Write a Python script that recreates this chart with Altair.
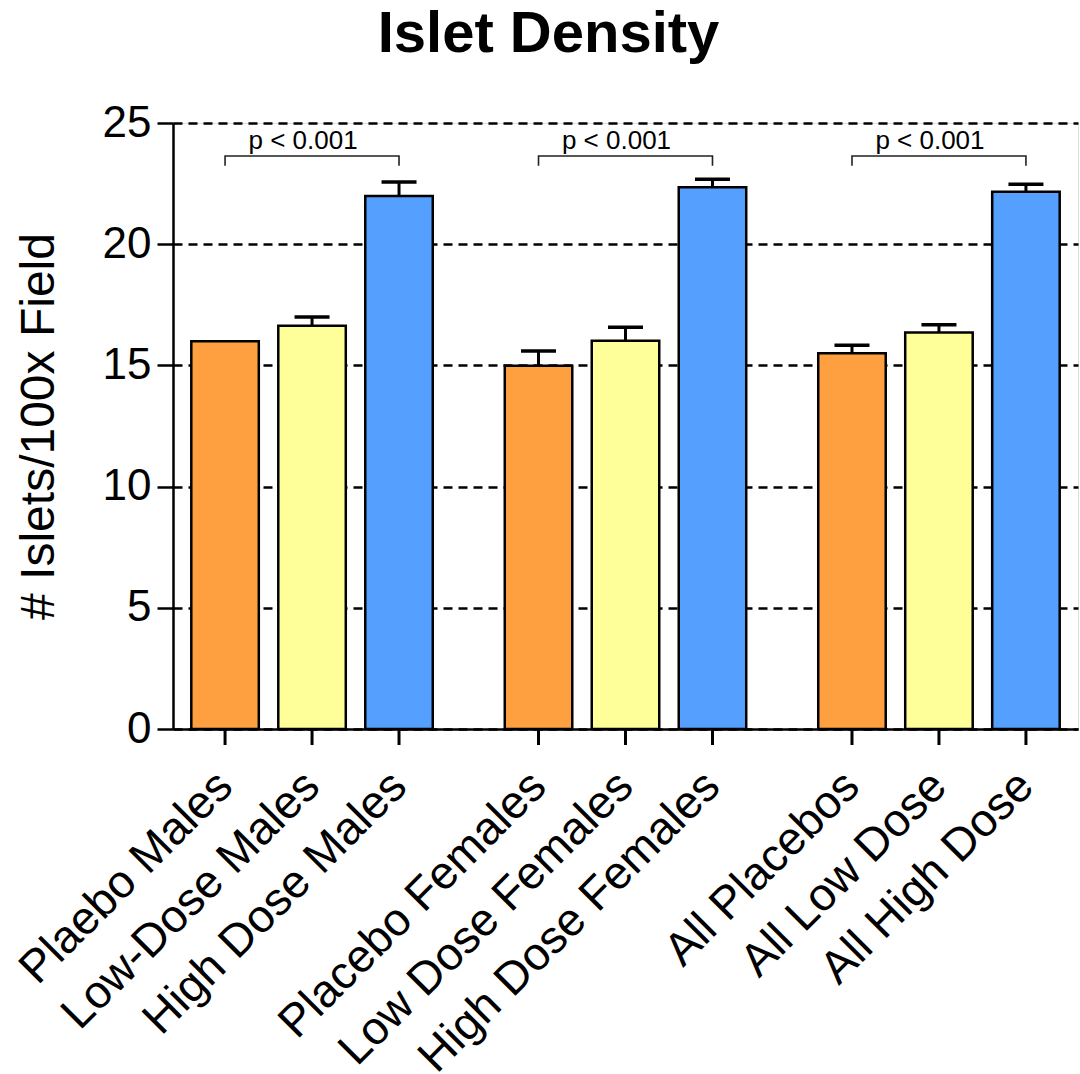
import altair as alt
import pandas as pd

labels = ["Plaebo Males", "Low-Dose Males", "High Dose Males",
          "Placebo Females", "Low Dose Females", "High Dose Females",
          "All Placebos", "All Low Dose", "All High Dose"]
groups = ["Males", "Females", "All"]
items = ["Placebo", "Low Dose", "High Dose"]
group_of = ["Males"] * 3 + ["Females"] * 3 + ["All"] * 3
item_of = items * 3
means = [16.0, 16.64, 21.99, 14.99, 16.02, 22.35, 15.50, 16.36, 22.16]
sems = [0.0, 0.36, 0.58, 0.60, 0.55, 0.33, 0.33, 0.32, 0.31]
colors = ["#FFA040", "#FFFF99", "#559FFF"]
y_ticks = [0, 5, 10, 15, 20, 25]

sig_text = ["p < 0.001", "p < 0.001", "p < 0.001"]
bracket_top = [23.64, 23.64, 23.64]
bracket_bottom = [23.24, 23.24, 23.24]

FONT = "Liberation Sans"

bars = pd.DataFrame({"label": labels, "group": group_of, "item": item_of,
                     "value": means, "err": sems})

br_rows = []
for g, top, bot in zip(groups, bracket_top, bracket_bottom):
    br_rows += [
        {"group": g, "item": items[0], "level": bot, "seq": 0},
        {"group": g, "item": items[0], "level": top, "seq": 1},
        {"group": g, "item": items[2], "level": top, "seq": 2},
        {"group": g, "item": items[2], "level": bot, "seq": 3},
    ]
brackets = pd.DataFrame(br_rows)
sig = pd.DataFrame({"group": groups, "text": sig_text, "level": bracket_top})

W, H = 905, 606

x_enc = alt.X("group:N", sort=groups,
              scale=alt.Scale(domain=groups, paddingInner=0.2297, paddingOuter=0.0584),
              axis=alt.Axis(labels=False, ticks=False, title=None, grid=False,
                            domain=True, domainColor="black", domainWidth=2.5))
xo_enc = alt.XOffset("item:N", sort=items,
                     scale=alt.Scale(domain=items, paddingInner=0.224, paddingOuter=0))
y_scale = alt.Scale(domain=[0, 25], nice=False, zero=True)

base = alt.Chart(bars)

bar_layer = base.mark_bar(stroke="black", strokeWidth=2.5).encode(
    x=x_enc,
    xOffset=xo_enc,
    y=alt.Y("value:Q", scale=y_scale,
            axis=alt.Axis(values=y_ticks, title="# Islets/100x Field",
                          labelFontSize=44, labelFont=FONT, labelColor="black",
                          labelPadding=6, tickSize=16, tickWidth=2.5, tickColor="black",
                          domainColor="black", domainWidth=2.5,
                          grid=True, gridDash=[9, 6], gridColor="black", gridWidth=2.5,
                          gridOpacity=1,
                          titleFontSize=48, titleFont=FONT, titleFontWeight="normal",
                          titleColor="black", titleAngle=270, titleX=-134, titleY=303,
                          titleAlign="center", titleBaseline="middle")),
    color=alt.Color("item:N", scale=alt.Scale(domain=items, range=colors), legend=None),
)

err_base = base.transform_filter("datum.err > 0").transform_calculate(
    upper="datum.value + datum.err")

stem_layer = err_base.mark_rule(color="black", strokeWidth=3).encode(
    x=alt.X("group:N", sort=groups), xOffset=alt.XOffset("item:N", sort=items),
    y="value:Q", y2="upper:Q")

cap_layer = err_base.mark_tick(color="black", thickness=3.5, size=35, opacity=1).encode(
    x=alt.X("group:N", sort=groups), xOffset=alt.XOffset("item:N", sort=items),
    y="upper:Q")

xtick_layer = base.mark_rule(color="black", strokeWidth=3).encode(
    x=alt.X("group:N", sort=groups), xOffset=alt.XOffset("item:N", sort=items),
    y=alt.value(H), y2=alt.value(H + 16))

xlabel_layer = base.mark_text(angle=315, align="right", baseline="middle",
                              fontSize=46, font=FONT, color="black").encode(
    x=alt.X("group:N", sort=groups), xOffset=alt.XOffset("item:N", sort=items),
    y=alt.value(H + 50), text="label:N")

bracket_layer = alt.Chart(brackets).mark_line(color="#222222", strokeWidth=1.6).encode(
    x=alt.X("group:N", sort=groups), xOffset=alt.XOffset("item:N", sort=items),
    y=alt.Y("level:Q"), order="seq:Q", detail="group:N")

sig_layer = alt.Chart(sig).mark_text(fontSize=26, font=FONT, color="black",
                                     baseline="alphabetic", dy=-7, dx=-9).encode(
    x=alt.X("group:N", sort=groups), y="level:Q", text="text:N")

chart = alt.layer(bar_layer, stem_layer, cap_layer, xtick_layer, xlabel_layer,
                  bracket_layer, sig_layer).properties(
    width=W, height=H,
    title=alt.TitleParams("Islet Density", fontSize=58, font=FONT, fontWeight="bold",
                          color="black", anchor="middle", frame="group", dx=-77, offset=37),
    autosize=alt.AutoSizeParams(type="none"),
    padding={"left": 173, "top": 123, "right": 2, "bottom": 345},
).configure_view(stroke=None).configure(background="white")

chart.save("out.html", embed_options={"renderer": "svg", "actions": False})
